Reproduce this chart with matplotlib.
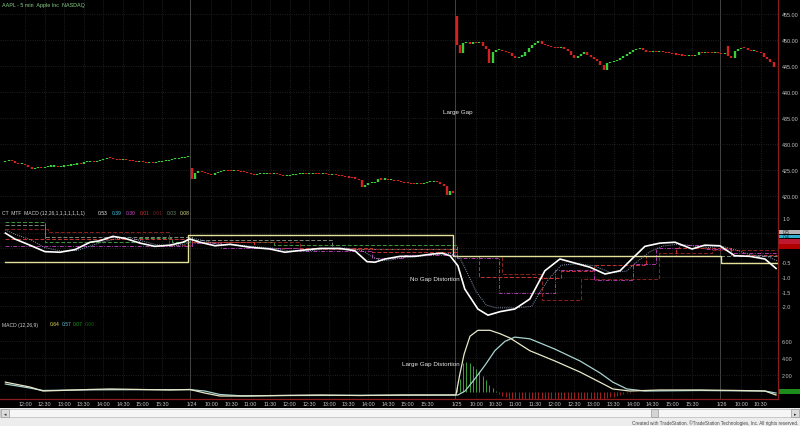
import numpy as np
import matplotlib
matplotlib.use('Agg')
import matplotlib.pyplot as plt
from matplotlib.patches import Rectangle
from matplotlib.transforms import blended_transform_factory

plt.rcParams['font.family'] = ['Liberation Sans', 'DejaVu Sans']

# ---- price data: 5-min closes, bar 0 = 1/23 11:30 ----
close_d1 = [426.6, 426.7, 426.6, 426.3, 426.1, 426.2, 425.9, 425.5, 425.2, 425.3,
            425.4, 425.3, 425.5, 425.6, 425.6, 425.6, 425.5, 425.6, 425.7, 425.8,
            425.9, 426.0, 426.2, 426.1, 426.4, 426.5, 426.6, 426.5, 426.6, 426.8,
            427.0, 427.3, 427.2, 427.0, 426.9, 426.8, 426.9, 426.8, 426.7, 426.6,
            426.5, 426.5, 426.4, 426.3, 426.4, 426.3, 426.4, 426.5, 426.6, 426.6,
            426.8, 427.0, 427.1, 427.2, 427.3, 427.4, 427.5]
close_d2 = [423.3, 424.4, 424.7, 424.5, 424.3, 424.2, 424.0, 424.4, 424.5, 424.7,
            424.9, 424.8, 424.7, 424.9, 424.7, 424.6, 424.5, 424.3, 424.2, 424.0,
            424.1, 424.2, 424.2, 424.3, 424.2, 424.3, 424.2, 424.0, 423.7, 423.8,
            423.9, 424.0, 424.1, 424.2, 424.3, 424.2, 424.2, 424.3, 424.2, 424.1,
            424.2, 424.1, 424.0, 424.1, 423.9, 423.8, 423.7, 423.6, 423.5, 423.4,
            423.3, 423.0, 421.6, 422.0, 422.4, 422.5, 422.6, 423.3, 423.1, 423.1,
            423.0, 423.0, 422.9, 422.8, 422.6, 422.5, 422.4, 422.3, 422.2, 422.4,
            422.3, 422.5, 422.6, 422.6, 422.7, 422.6, 422.2, 421.8, 420.2, 421.0,
            420.5]
close_d3 = [449.0, 447.4, 449.4, 449.5, 449.3, 449.6, 449.4, 449.7, 448.8, 448.3,
            445.6, 447.6, 448.0, 448.0, 447.8, 447.6, 447.4, 446.9, 446.6, 446.8,
            447.0, 447.6, 448.4, 449.0, 449.5, 449.8, 449.3, 449.0, 448.8, 448.6,
            448.5, 448.4, 448.6, 448.3, 447.9, 447.2, 446.6, 446.9, 447.3, 447.6,
            447.2, 446.7, 446.4, 446.0, 445.2, 444.3, 445.6, 445.8, 445.9, 446.1,
            446.6, 447.0, 447.3, 447.7, 448.0, 448.2, 448.4, 448.0, 447.7, 447.6,
            447.7, 447.6, 447.7, 447.6, 447.5, 447.4, 447.3, 447.2, 447.1, 447.0,
            446.9, 447.0, 446.9, 447.1, 447.6, 447.5, 447.6, 447.5, 447.4, 447.5,
            447.4]
close_d4 = [447.3, 447.5, 447.0, 446.5, 447.8, 448.3, 448.5, 448.4, 448.0, 447.8,
            447.9, 447.7, 447.5, 446.8, 446.3, 445.8, 444.8]
# opening prints that differ from the previous close (gaps)
open_override = {0: 426.5, 57: 425.3, 138: 454.7, 221: 448.9}

day_open_bar = [-24, 57, 138, 219]   # bar index of 9:30 for each session

# ---- CT MTF MACD panel ----
mtf_x = [0, 2.9, 7.5, 12.1, 16.7, 21.3, 25.9, 28.9, 32.9, 36.6, 41.2, 45.7, 50.3, 54.3,
         56.4, 59.5, 64.1, 68.7, 74.8, 80.9, 85.5, 90.1, 96.2, 102.3, 106.9, 110.6, 113.0,
         116.1, 120.7, 125.3, 129.8, 133.5, 136.0, 138.4, 140.5, 144.5, 147.6, 151.3, 155.8,
         160.4, 165.0, 169.6, 174.2, 178.8, 183.4, 188.0, 191.6, 195.6, 200.2, 204.8, 210.0,
         213.9, 218.5, 223.1, 227.7, 232.3, 235.7]
mtf_main = [0.49, 0.29, 0.08, -0.14, -0.16, -0.07, 0.18, 0.23, 0.38, 0.31, 0.15, 0.04, 0.08,
            0.18, 0.29, 0.18, 0.06, 0.11, 0.01, -0.05, -0.16, -0.10, -0.03, -0.03, -0.11,
            -0.48, -0.50, -0.39, -0.30, -0.30, -0.23, -0.19, -0.28, -0.62, -1.41, -2.09,
            -2.30, -2.18, -2.09, -1.75, -0.79, -0.39, -0.53, -0.67, -0.90, -0.79, -0.39,
            0.04, 0.15, 0.18, -0.05, 0.08, 0.06, -0.28, -0.30, -0.39, -0.71]
dot_x = [0, 3, 8, 12, 17, 22, 26, 30, 34, 38, 42, 46, 51, 55, 58, 62, 66, 70, 76, 82, 87,
         92, 98, 104, 109, 112, 115, 118, 122, 127, 132, 136, 139, 141, 144, 147, 150, 156,
         161, 163, 166, 170, 175, 180, 185, 190, 193, 197, 201, 206, 211, 215, 219, 224,
         228, 233, 236]
dot_val = [0.6, 0.45, 0.25, 0.0, -0.12, -0.1, 0.05, 0.2, 0.3, 0.33, 0.22, 0.1, 0.05, 0.12,
           0.3, 0.2, 0.08, 0.1, 0.03, -0.02, -0.12, -0.12, -0.05, -0.02, -0.1, -0.3, -0.45,
           -0.42, -0.33, -0.3, -0.24, -0.2, -0.35, -0.8, -1.5, -1.95, -2.05, -2.05, -2.0,
           -1.6, -1.1, -0.6, -0.55, -0.62, -0.85, -0.8, -0.5, -0.15, 0.05, 0.12, 0.05, 0.0,
           0.05, -0.1, -0.25, -0.3, -0.45]
step_magenta = ([0, 57, 66, 90, 112, 122, 138, 151, 168, 180, 192, 199, 206, 214, 222, 236],
                [0.06, 0.15, -0.02, -0.12, -0.35, -0.25, -0.35, -1.55, -0.75, -1.1, -0.55,
                 0.0, 0.1, -0.05, -0.2, -0.2])
step_red = ([0, 57, 76, 112, 138, 145, 163, 170, 180, 196, 205, 222, 236],
            [0.3, 0.18, -0.03, -0.14, -0.29, -1.0, -1.05, -0.8, -0.6, -0.3,
             0.0, -0.25, -0.25])
step_darkred = ([0, 13, 50, 57, 90, 138, 152, 164, 176, 200, 216, 236],
                [0.62, 0.52, 0.1, 0.2, -0.05, -0.29, -0.9, -1.78, -1.07, -0.2, -0.1, -0.1])
step_green = ([0, 12, 41, 51, 82, 138, 219, 236],
              [0.88, 0.2, 0.31, 0.2, 0.1, -0.29, -0.54, -0.54])
step_gray = ([0, 12, 30, 57, 100, 138, 236],
             [0.78, 0.35, 0.35, 0.25, -0.05, -0.29, -0.29])
step_yellow = ([0, 56, 137, 219, 236], [-0.48, 0.43, -0.29, -0.54, -0.54])

# ---- MACD (12,26,9) panel ----
macd_x = [0, 2.9, 7.5, 11.5, 16.7, 25.9, 32.0, 41.2, 50.3, 56.4, 61.0, 65.6, 74.8, 84.0,
          96.2, 108.4, 120.7, 132.9, 137.8, 139.0, 140.3, 142.1, 144.5, 148.2, 151.3, 154.3,
          160.4, 168.0, 175.7, 181.8, 185.8, 191.0, 200.2, 212.4, 224.6, 232.3, 235.7]
macd_line = [1.1, 0.88, 0.53, 0.06, 0.12, 0.24, 0.3, 0.24, 0.18, 0.24, -0.18, -0.53, -0.53,
             -0.47, -0.41, -0.47, -0.41, -0.41, -0.41, 2.06, 4.4, 6.5, 7.2, 7.2, 6.8, 6.3,
             4.8, 3.6, 2.3, 1.1, 0.3, 0.06, 0.18, 0.18, 0.12, 0.06, -0.41]
sig_x = [0, 2.9, 7.5, 11.5, 25.9, 41.2, 56.4, 61.0, 65.6, 71.8, 84.0, 108.4, 132.9, 138.4,
         140.6, 143.6, 146.7, 149.7, 152.8, 155.8, 160.4, 168.0, 175.7, 181.8, 185.8, 190.1,
         195.6, 212.4, 232.3, 235.7]
sig_line = [0.88, 0.7, 0.41, 0.12, 0.2, 0.22, 0.22, 0.06, -0.35, -0.5, -0.47, -0.45, -0.42,
            -0.41, 0.06, 1.5, 3.1, 4.8, 5.9, 6.4, 6.2, 5.0, 3.6, 2.2, 1.1, 0.3, 0.06, 0.12,
            0.06, -0.18]
hist_start = 138
hist_vals = [0.6, 1.5, 3.3, 3.5, 3.3, 3.0, 2.7, 2.3, 1.8, 1.3, 0.8, 0.4, 0.1,
             -0.3, -0.5, -0.7, -0.9, -1.0, -1.1, -1.2, -1.2, -1.3, -1.3, -1.3, -1.3, -1.3,
             -1.3, -1.3, -1.3, -1.3, -1.3, -1.3, -1.3, -1.3, -1.2, -1.2, -1.2, -1.2, -1.1,
             -1.1, -1.1, -1.0, -1.0, -1.0, -0.9, -0.9, -0.8, -0.7, -0.6, -0.5, -0.4, -0.3,
             -0.2, -0.2, -0.1, -0.1, -0.1, -0.1]

# time axis labels (session index, time)
tick_spec = [(0, '12:00'), (0, '12:30'), (0, '13:00'), (0, '13:30'), (0, '14:00'),
             (0, '14:30'), (0, '15:00'), (0, '15:30'),
             (1, '1/24'), (1, '10:00'), (1, '10:30'), (1, '11:00'), (1, '11:30'), (1, '12:00'),
             (1, '12:30'), (1, '13:00'), (1, '13:30'), (1, '14:00'), (1, '14:30'), (1, '15:00'),
             (1, '15:30'),
             (2, '1/25'), (2, '10:00'), (2, '10:30'), (2, '11:00'), (2, '11:30'), (2, '12:00'),
             (2, '12:30'), (2, '13:00'), (2, '13:30'), (2, '14:00'), (2, '14:30'), (2, '15:00'),
             (2, '15:30'),
             (3, '1/26'), (3, '10:00'), (3, '10:30')]


def bar_of(day, label):
    if '/' in label:
        return day_open_bar[day]
    h, m = label.split(':')
    return day_open_bar[day] + (int(h) * 60 + int(m) - 570) / 5


tick_pos = [bar_of(d, t) for d, t in tick_spec]
tick_lab = [t for d, t in tick_spec]

closes = np.array(close_d1 + close_d2 + close_d3 + close_d4)
bars = np.arange(len(closes))
opens = np.r_[closes[0], closes[:-1]]
for k, v in open_override.items():
    opens[k] = v

# ---------------- figure ----------------
W, H = 800, 427
fig = plt.figure(figsize=(W / 100, H / 100), dpi=100, facecolor='black')

ov = fig.add_axes([0, 0, 1, 1])
ov.set_xlim(0, W)
ov.set_ylim(H, 0)
ov.axis('off')
ov.add_patch(Rectangle((0, 409), W, 18, fc='#ededed', ec='none'))
ov.add_patch(Rectangle((0, 410), W, 8, fc='#f6f6f6', ec='#b8b8b8', lw=0.5))
ov.add_patch(Rectangle((1, 410), 8, 8, fc='#dcdcdc', ec='#9a9a9a', lw=0.5))
ov.add_patch(Rectangle((791, 410), 8, 8, fc='#dcdcdc', ec='#9a9a9a', lw=0.5))
ov.add_patch(Rectangle((651, 410), 7, 8, fc='#d4d4d4', ec='#9a9a9a', lw=0.5))
ov.text(5, 414.3, '\u25c2', fontsize=3.5, ha='center', va='center', color='#333333')
ov.text(795, 414.3, '\u25b8', fontsize=3.5, ha='center', va='center', color='#333333')
ov.text(798, 423.5, 'Created with TradeStation. \u00a9TradeStation Technologies, Inc. All rights reserved.',
        fontsize=3.3, ha='right', va='center', color='#444444')


def px_axes(x0, y0, x1, y1):
    return fig.add_axes([x0 / W, 1 - y1 / H, (x1 - x0) / W, (y1 - y0) / H])


ax1 = px_axes(0, 0, 778, 205)
ax2 = px_axes(0, 205, 778, 320)
ax3 = px_axes(0, 320, 778, 400)

grid_c = '#333333'
for ax, yt in [(ax1, [420, 425, 430, 435, 440, 445, 450, 455]),
               (ax2, [1.0, 0.5, 0.0, -0.5, -1.0, -1.5, -2.0]),
               (ax3, [2, 4, 6])]:
    ax.set_facecolor('black')
    ax.set_xlim(-1.65, 236.3)
    for s in ['top', 'left', 'bottom']:
        ax.spines[s].set_visible(False)
    ax.spines['right'].set_color('#8a1c1c')
    ax.spines['right'].set_linewidth(0.9)
    ax.yaxis.tick_right()
    ax.tick_params(axis='y', colors='#c4c4c4', labelsize=3.9, length=0, pad=3)
    ax.set_xticks([])
    for p, t in zip(tick_pos, tick_lab):
        if '/' in t:
            ax.axvline(p - 0.5, color='#4e4e4e', lw=0.6, zorder=0)
        else:
            ax.axvline(p, color=grid_c, lw=0.55, ls=(0, (1, 2)), zorder=0)
    for y in yt:
        ax.axhline(y, color=grid_c, lw=0.55, ls=(0, (1, 2)), zorder=0)

# --- price panel ---
ax1.set_ylim(418.4, 457.9)
ax1.set_yticks([420, 425, 430, 435, 440, 445, 450, 455])
ax1.set_yticklabels(['%.2f' % v for v in [420, 425, 430, 435, 440, 445, 450, 455]])
lo = np.minimum(opens, closes)
hi = np.maximum(np.maximum(opens, closes), lo + 0.22)
cols = np.where(closes >= opens, '#38d038', '#d42222')
ax1.vlines(bars, lo, hi, colors=cols, lw=1.7, zorder=3)
ax1.text(0.003, 0.985, 'AAPL - 5 min  Apple Inc  NASDAQ', transform=ax1.transAxes,
         fontsize=3.9, color='#86d286', va='top', ha='left')
ax1.text(138.4, 436.2, 'Large Gap', fontsize=4.5, color='#e6e6e6', ha='center', va='center')

# --- CT MTF MACD panel ---
ax2.set_ylim(-2.43, 1.48)
ax2.set_yticks([1.0, -0.5, -1.0, -1.5, -2.0])
ax2.set_yticklabels(['1.0', '-0.5', '-1.0', '-1.5', '-2.0'])


def steps(ax, s, color, ls, lw=0.7):
    ax.plot(s[0], s[1], drawstyle='steps-post', color=color, ls=ls, lw=lw, zorder=2)


steps(ax2, step_gray, '#7a8a7a', (0, (4, 2)))
steps(ax2, step_green, '#3c963c', (0, (4, 2)))
steps(ax2, step_darkred, '#8a2020', (0, (4, 2)))
steps(ax2, step_red, '#c83030', (0, (4, 2)))
steps(ax2, step_magenta, '#a83aa8', (0, (4, 1.5, 1, 1.5)))
ax2.plot(dot_x, dot_val, color='#8a9ab8', lw=0.7, ls=(0, (1, 1.2)), zorder=3)
steps(ax2, step_yellow, '#e4e29a', '-', lw=1.0)
ax2.plot(mtf_x, mtf_main, color='white', lw=1.2, zorder=4)

hdr_y = 0.922
ax2.text(2 / 778, hdr_y, 'CT  MTF  MACD (12,26,1,1,1,1,1,1,1)', transform=ax2.transAxes,
         fontsize=3.6, color='#d0d0d0', va='center')
for xp, txt, c in [(98, '0.53', '#e8e8e8'), (112, '0.39', '#40c8e8'), (126, '0.30', '#c848c8'),
                   (140, '0.01', '#d83030'), (153, '0.01', '#7a2020'), (167, '0.03', '#6a8a6a'),
                   (180, '0.08', '#e0e088')]:
    ax2.text(xp / 778, hdr_y, txt, transform=ax2.transAxes, fontsize=3.6, color=c, va='center')
ax2.text(131.2, -1.04, 'No Gap Distortion', fontsize=4.5, color='#e6e6e6', ha='center', va='center')

tr2 = blended_transform_factory(ax2.transAxes, ax2.transData)
for v, h, fc, txt in [(0.53, 0.13, '#b4b4b4', '0.5'), (0.39, 0.1, '#30b0d0', '0.4'),
                      (0.20, 0.18, '#c01830', ''), (0.03, 0.17, '#b00000', '')]:
    ax2.add_patch(Rectangle((1.0015, v - h / 2), 0.027, h, transform=tr2, fc=fc, ec='none',
                            clip_on=False))
    if txt:
        ax2.text(1.006, v, txt, transform=tr2, fontsize=3.5, color='#202020', va='center')

# --- MACD panel ---
ax3.set_ylim(-0.88, 8.53)
ax3.set_yticks([2, 4, 6])
ax3.set_yticklabels(['2.00', '4.00', '6.00'])
hx = hist_start + np.arange(len(hist_vals))
hv = np.array(hist_vals)
ax3.vlines(hx, 0, hv, colors=np.where(hv >= 0, '#3aa03a', '#a02020'), lw=0.7, zorder=2)
ax3.plot(sig_x, sig_line, color='#a8d4d0', lw=0.9, zorder=3)
ax3.plot(macd_x, macd_line, color='#e8e8c8', lw=0.9, zorder=4)
ax3.spines['bottom'].set_visible(True)
ax3.spines['bottom'].set_color('#8a1c1c')
ax3.spines['bottom'].set_linewidth(0.9)
ax3.set_xticks(tick_pos)
ax3.set_xticklabels(tick_lab)
ax3.tick_params(axis='x', colors='#c4c4c4', labelsize=3.9, length=0, pad=1.5)
hy = 0.9375
ax3.text(2 / 778, hy, 'MACD (12,26,9)', transform=ax3.transAxes, fontsize=3.6,
         color='#d0d0d0', va='center')
for xp, txt, c in [(50, '0.64', '#e0e060'), (62, '0.57', '#60c0c8'), (73, '0.07', '#20a020'),
                   (85, '0.00', '#106010')]:
    ax3.text(xp / 778, hy, txt, transform=ax3.transAxes, fontsize=3.6, color=c, va='center')
ax3.text(130.2, 3.35, 'Large Gap Distortion', fontsize=4.5, color='#e6e6e6', ha='center',
         va='center')
tr3 = blended_transform_factory(ax3.transAxes, ax3.transData)
ax3.add_patch(Rectangle((1.0015, -0.3), 0.027, 0.65, transform=tr3, fc='#1c8c1c', ec='none',
                        clip_on=False))

fig.savefig('out.png', dpi=100, facecolor='black')
